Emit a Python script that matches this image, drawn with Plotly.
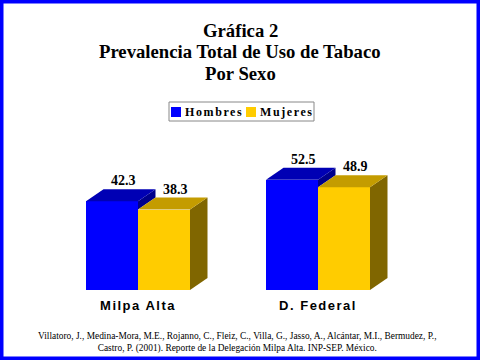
import plotly.graph_objects as go

# ---- data ----
categories = ["Milpa Alta", "D. Federal"]
series_names = ["Hombres", "Mujeres"]
hombres = [42.3, 52.5]
mujeres = [38.3, 48.9]

# ---- styling ----
front_colors = ["#0000FF", "#FFCC00"]
top_colors = ["#0000B4", "#C49C00"]
side_colors = ["#00008C", "#806600"]
W, H = 480, 360
L, R, T, B = 48, 72, 130, 70
XR = (-0.5, 1.5)
YR = (0, 160 / 2.1)
bar_w = 52 / 180          # bar width in category units
dx = 17.5 / 180           # depth offset (x, category units)
dy = 12 / 2.1             # depth offset (y, value units)

def spaced(s, sp):
    return f'<span style="letter-spacing:{sp}px">{s}</span>'

fig = go.Figure()
series = [hombres, mujeres]
offsets = [-bar_w / 2, bar_w / 2]

# front faces (bars)
for k, (name, vals) in enumerate(zip(series_names, series)):
    fig.add_trace(go.Bar(
        x=[i + offsets[k] for i in range(len(categories))], y=vals, width=bar_w,
        name=name, marker=dict(color=front_colors[k], line=dict(width=0)),
        showlegend=False, hoverinfo="y"))

def poly(xs, ys, color):
    fig.add_trace(go.Scatter(x=xs + [xs[0]], y=ys + [ys[0]], mode="lines",
                             fill="toself", fillcolor=color,
                             line=dict(width=0, color=color),
                             showlegend=False, hoverinfo="skip"))

for i in range(len(categories)):
    vb, vy = hombres[i], mujeres[i]
    # blue bar
    x0 = i - bar_w
    x1 = i
    low = min(vb, vy)
    poly([x1, x1 + dx, x1 + dx, x1], [low, low + dy, vb + dy, vb], side_colors[0])
    poly([x0, x0 + dx, x1 + dx, x1], [vb, vb + dy, vb + dy, vb], top_colors[0])
    # yellow bar
    x0 = i
    x1 = i + bar_w
    poly([x1, x1 + dx, x1 + dx, x1], [0, dy, vy + dy, vy], side_colors[1])
    poly([x0, x0 + dx, x1 + dx, x1], [vy, vy + dy, vy + dy, vy], top_colors[1])

# value labels
annotations = []
for k, vals in enumerate(series):
    for i, v in enumerate(vals):
        annotations.append(dict(
            x=i + offsets[k] + 0.63 * dx, y=v + dy, xref="x", yref="y",
            text=f"{v:.1f}", showarrow=False, yanchor="bottom", yshift=-1,
            font=dict(family="Liberation Serif", size=14, color="black", weight="bold")))

# manual legend
pw, ph = W - L - R, H - T - B
def px2x(px):
    return (px - L) / pw
def py2y(py):
    return 1 - (py - T) / ph

shapes = [
    dict(type="rect", xref="paper", yref="paper", x0=px2x(169), x1=px2x(314),
         y0=py2y(121), y1=py2y(102), line=dict(color="#888888", width=1),
         fillcolor="white", layer="above"),
]
leg_items = [(171, 183, 0), (246, 258, 1)]
for sx, tx, k in leg_items:
    shapes.append(dict(type="rect", xref="paper", yref="paper", x0=px2x(sx), x1=px2x(sx + 10),
                       y0=py2y(117), y1=py2y(107), line=dict(width=0),
                       fillcolor=front_colors[k], layer="above"))
    annotations.append(dict(x=px2x(tx), y=py2y(112), xref="paper", yref="paper",
                            xanchor="left", yanchor="middle", showarrow=False,
                            text=spaced(series_names[k], 1.6),
                            font=dict(family="Liberation Serif", size=12, color="black", weight="bold")))

# border
shapes.append(dict(type="rect", xref="paper", yref="paper",
                   x0=px2x(0), x1=px2x(W), y0=py2y(H), y1=py2y(0),
                   line=dict(color="#0000FF", width=7), layer="above"))

# title lines
title_lines = ["Gráfica 2", "Prevalencia Total de Uso de Tabaco", "Por Sexo"]
for j, (t, yc) in enumerate(zip(title_lines, [30, 51, 73])):
    annotations.append(dict(x=px2x(240), y=py2y(yc), xref="paper", yref="paper",
                            text=t, showarrow=False, xanchor="center", yanchor="middle",
                            font=dict(family="Liberation Serif", size=18.7, color="black", weight="bold")))

# footer
footer = ("Villatoro, J., Medina-Mora, M.E., Rojanno, C., Fleiz, C., Villa, G., Jasso, A., Alcántar, M.I., Bermudez, P.,"
          "<br>Castro, P. (2001). Reporte de la Delegación Milpa Alta. INP-SEP. México.")
annotations.append(dict(x=px2x(237), y=py2y(342.5), xref="paper", yref="paper",
                        text=footer, showarrow=False, xanchor="center", yanchor="middle",
                        font=dict(family="Liberation Serif", size=9.4, color="black")))

fig.update_layout(
    width=W, height=H, margin=dict(l=L, r=R, t=T, b=B),
    paper_bgcolor="white", plot_bgcolor="white",
    showlegend=False, bargap=0,
    xaxis=dict(range=list(XR), tickvals=list(range(len(categories))),
               ticktext=[spaced(c, 1.5) for c in categories],
               showgrid=False, zeroline=False, showline=False, ticks="",
               ticklabelstandoff=6,
               tickfont=dict(family="Liberation Sans", size=13, color="black", weight="bold")),
    yaxis=dict(range=list(YR), visible=False, showgrid=False, zeroline=False),
    shapes=shapes, annotations=annotations,
)

fig.write_html("out.html", config={"displayModeBar": False},
               post_script="document.body.style.margin='0';document.body.style.overflow='hidden';")
